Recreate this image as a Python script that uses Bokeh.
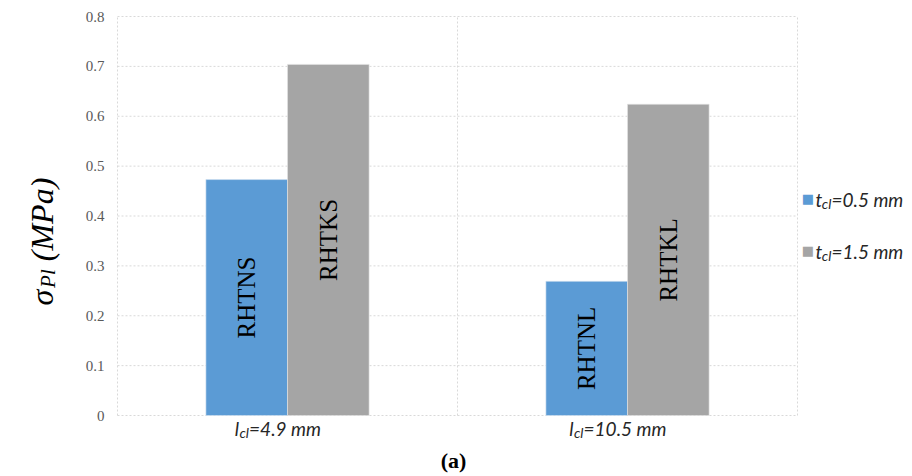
from math import pi, cos, sin

from bokeh.plotting import figure
from bokeh.models import Range1d, Label, ColumnDataSource
from bokeh.core.properties import value
from bokeh.embed import file_html
from bokeh.resources import INLINE

# ---- data -------------------------------------------------------------
cell_lengths = ["4.9", "10.5"]            # l_cl in mm, one group per value
wall_thicknesses = ["0.5", "1.5"]         # t_cl in mm, one bar series per value
thin_wall_stress = [0.473, 0.269]         # sigma_Pl (MPa), t_cl = 0.5 mm
thick_wall_stress = [0.704, 0.624]        # sigma_Pl (MPa), t_cl = 1.5 mm
thin_wall_names = ["RHTNS", "RHTNL"]
thick_wall_names = ["RHTKS", "RHTKL"]
y_ticks = [0, 0.1, 0.2, 0.3, 0.4, 0.5, 0.6, 0.7, 0.8]
y_tick_labels = ["0", "0.1", "0.2", "0.3", "0.4", "0.5", "0.6", "0.7", "0.8"]

BLUE = "#5B9BD5"
GREY = "#A5A5A5"
GRID = "#D9D9D9"
BAR_W = 0.24

# page geometry: plotting area inside the 912 x 476 canvas
W, H = 912, 476
LEFT, RIGHT, TOP, BOTTOM = 117, 797, 16, 415
n_groups = len(cell_lengths)
y_max = y_ticks[-1]
px_x = (RIGHT - LEFT) / n_groups            # pixels per group
px_y = (BOTTOM - TOP) / y_max               # pixels per MPa

# approximate advance widths (in em) used to lay out mixed-size labels
LATO_IT = {" ": 0.26, "=": 0.58, ".": 0.23, "m": 0.86, "l": 0.24, "c": 0.45, "t": 0.33}
SERIF_IT = {"σ": 0.55, "P": 0.611, "l": 0.278, " ": 0.25, "(": 0.333, ")": 0.333,
            "M": 0.833, "a": 0.5}


def text_width(text, size, table):
    return sum(table.get(ch, 0.58) for ch in text) * size


def add_rich(p, pieces, x, y, x_off, y_off, angle=0.0, color="black"):
    """Draw a run of text pieces (text, font, size, style, drop, widths) on one baseline."""
    adv = 0.0
    for text, font, size, style, drop, table in pieces:
        # leading blanks would collapse in SVG, so turn them into an advance
        body = text.lstrip(" ")
        adv += text_width(text[:len(text) - len(body)], size, table)
        dx = adv * cos(angle) + drop * sin(angle)
        dy = adv * sin(angle) - drop * cos(angle)
        p.add_layout(Label(
            x=x, y=y, x_offset=x_off + dx, y_offset=y_off + dy, text=body,
            angle=angle, text_font=font, text_font_size=f"{size}px",
            text_font_style=style, text_color=color,
            text_align="left", text_baseline="alphabetic"))
        adv += text_width(body, size, table)
    return adv


# ---- figure: the frame spans the canvas, data 0..n_groups / 0..y_max sit in the plot area
p = figure(width=W, height=H, output_backend="svg", toolbar_location=None,
           x_range=Range1d(-LEFT / px_x, n_groups + (W - RIGHT) / px_x),
           y_range=Range1d(-(H - BOTTOM) / px_y, y_max + TOP / px_y),
           min_border=0)
p.outline_line_color = None
p.background_fill_color = "white"
p.border_fill_color = "white"
p.xaxis.visible = False
p.yaxis.visible = False
p.grid.visible = False

# dotted gridlines at the value ticks and at the group boundaries
p.segment(x0=0, x1=n_groups, y0=y_ticks, y1=y_ticks,
          line_color=GRID, line_dash="2 2", line_width=1)
bounds = list(range(n_groups + 1))
p.segment(x0=bounds, x1=bounds, y0=0, y1=y_max,
          line_color=GRID, line_dash="2 2", line_width=1)

# value tick labels
p.text(x=0, y=y_ticks, text=y_tick_labels, x_offset=-13,
       text_font=value("Liberation Serif"), text_font_size="15px",
       text_color="#595959", text_align="right", text_baseline="middle")

# ---- bars -------------------------------------------------------------
centers = [i + 0.5 for i in range(n_groups)]
thin_src = ColumnDataSource(dict(
    x=[c - BAR_W / 2 for c in centers], top=thin_wall_stress,
    mid=[v / 2 for v in thin_wall_stress], name=thin_wall_names))
thick_src = ColumnDataSource(dict(
    x=[c + BAR_W / 2 for c in centers], top=thick_wall_stress,
    mid=[v / 2 for v in thick_wall_stress], name=thick_wall_names))

p.vbar(x="x", top="top", bottom=0, width=BAR_W, source=thin_src,
       fill_color=BLUE, line_color="#D6E4F2", line_width=0.6)
p.vbar(x="x", top="top", bottom=0, width=BAR_W, source=thick_src,
       fill_color=GREY, line_color="#E4E4E4", line_width=0.6)

for src in (thin_src, thick_src):
    p.text(x="x", y="mid", text="name", source=src, angle=pi / 2,
           text_font=value("Liberation Serif"), text_font_size="25px",
           text_color="black", text_align="center", text_baseline="middle")

# ---- category labels: l_cl=... mm ---------------------------------------
for c, L in zip(centers, cell_lengths):
    pieces = [("l", "Lato", 19, "italic", 0, LATO_IT),
              ("cl", "Lato", 14, "italic", 4, LATO_IT),
              (f"={L} mm", "Lato", 19, "italic", 0, LATO_IT)]
    w = sum(text_width(t, s, tb) for t, _, s, _, _, tb in pieces)
    add_rich(p, pieces, c, 0, -w / 2 - 8, -13, color="#262626")

# ---- y-axis title: sigma_Pl (MPa) ---------------------------------------
add_rich(p, [("σ", "Liberation Serif", 32, "italic", 0, SERIF_IT),
             ("Pl", "Liberation Serif", 21, "italic", 6, SERIF_IT),
             (" (MPa)", "Liberation Serif", 32, "italic", 0, SERIF_IT)],
         0, 0, -76, 110, angle=pi / 2)

# ---- legend -----------------------------------------------------------
for k, (t, color) in enumerate(zip(wall_thicknesses, [BLUE, GREY])):
    base = 216 - 52 * k
    p.add_layout(Label(x=n_groups, y=0, x_offset=10.5, y_offset=base + 1, text="■",
                       text_font="DejaVu Sans", text_font_size="13px",
                       text_color=color, text_align="center",
                       text_baseline="middle"))
    add_rich(p, [("t", "Lato", 19, "italic", 0, LATO_IT),
                 ("cl", "Lato", 14, "italic", 4, LATO_IT),
                 (f"={t} mm", "Lato", 19, "italic", 0, LATO_IT)],
             n_groups, 0, 18, base, color="#262626")

# ---- panel caption ------------------------------------------------------
p.add_layout(Label(x=n_groups / 2, y=0, x_offset=-4, y_offset=-45, text="(a)",
                   text_font="Liberation Serif", text_font_size="22px",
                   text_font_style="bold", text_color="black",
                   text_align="center", text_baseline="alphabetic"))

open("out.html", "w").write(file_html(p, INLINE))
